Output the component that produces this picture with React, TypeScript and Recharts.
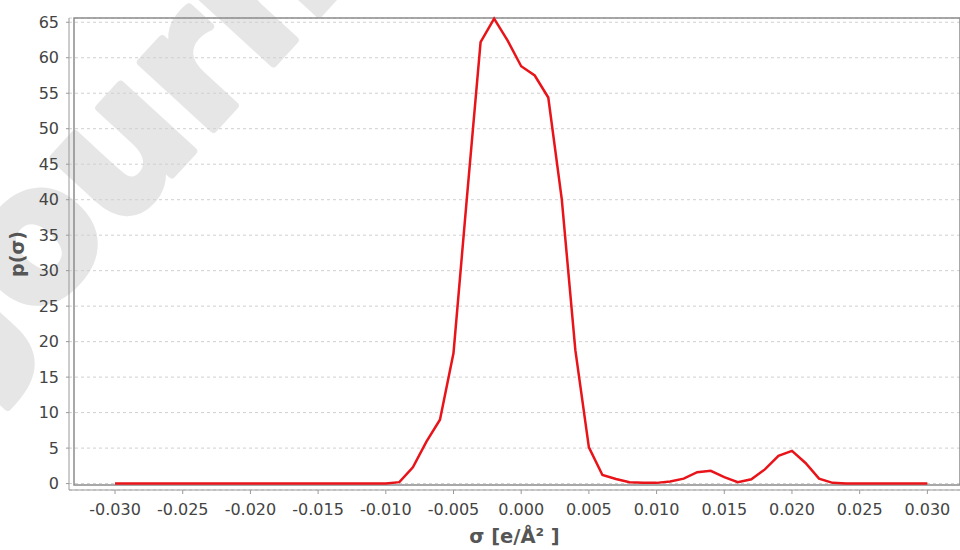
import {
  LineChart,
  Line,
  XAxis,
  YAxis,
  CartesianGrid,
  ReferenceArea,
  Label,
} from 'recharts'

// sigma-profile: charge density sigma (e/Å²) vs. p(sigma)
const sigma = [
  -0.03, -0.029, -0.028, -0.027, -0.026, -0.025, -0.024, -0.023, -0.022, -0.021,
  -0.02, -0.019, -0.018, -0.017, -0.016, -0.015, -0.014, -0.013, -0.012, -0.011,
  -0.01, -0.009, -0.008, -0.007, -0.006, -0.005, -0.004, -0.003, -0.002, -0.001,
  0.0, 0.001, 0.002, 0.003, 0.004, 0.005, 0.006, 0.007, 0.008, 0.009,
  0.01, 0.011, 0.012, 0.013, 0.014, 0.015, 0.016, 0.017, 0.018, 0.019,
  0.02, 0.021, 0.022, 0.023, 0.024, 0.025, 0.026, 0.027, 0.028, 0.029,
  0.03,
]

const pSigma = [
  0, 0, 0, 0, 0, 0, 0, 0, 0, 0,
  0, 0, 0, 0, 0, 0, 0, 0, 0, 0,
  0, 0.2, 2.3, 5.9, 9.0, 18.4, 40.5, 62.2, 65.5, 62.4,
  58.8, 57.5, 54.4, 40.0, 18.8, 5.1, 1.2, 0.65, 0.2, 0.1,
  0.1, 0.3, 0.7, 1.6, 1.8, 0.9, 0.2, 0.6, 2.0, 3.9,
  4.6, 2.9, 0.7, 0.1, 0, 0, 0, 0, 0, 0,
  0,
]

const xTicks = [-0.03, -0.025, -0.02, -0.015, -0.01, -0.005, 0, 0.005, 0.01, 0.015, 0.02, 0.025, 0.03]
const yTicks = [0, 5, 10, 15, 20, 25, 30, 35, 40, 45, 50, 55, 60, 65]

const xDomain = [-0.03303, 0.03241]
const yDomain = [-0.2, 65.6]

const data = sigma.map((s, i) => ({ sigma: s, p: pSigma[i] }))

const FONT = '"DejaVu Sans", sans-serif'
const AXIS_GRAY = '#999999'
const MARK_GRAY = '#e6e6e6'

export default function App() {
  return (
    <div style={{ position: 'absolute', left: 0, top: 0, width: 960, height: 550, background: '#fff', fontFamily: FONT }}>
      {/* watermark sits underneath the chart */}
      <svg
        width={960}
        height={550}
        style={{ position: 'absolute', left: 0, top: 0, pointerEvents: 'none' }}
      >
        <text
          x={0}
          y={0}
          transform="translate(-12 375) rotate(-47.5)"
          fontFamily={FONT}
          fontWeight="bold"
          fontSize={180}
          fill={MARK_GRAY}
          stroke={MARK_GRAY}
          strokeWidth={8}
          strokeLinejoin="round"
        >
          Journal Pre-proof
        </text>
      </svg>
      <div style={{ position: 'absolute', left: 0, top: 0 }}>
        <LineChart
          width={960}
          height={550}
          data={data}
          margin={{ top: 18, right: 0, bottom: 0, left: 0 }}
        >
          <CartesianGrid vertical={false} stroke="#d0d0d0" strokeDasharray="3 3" />
          <XAxis
            type="number"
            dataKey="sigma"
            domain={xDomain}
            ticks={xTicks}
            tickFormatter={(v: number) => v.toFixed(3)}
            height={60}
            padding={{ left: 5, right: 0 }}
            stroke={AXIS_GRAY}
            tickSize={4}
            tickMargin={10}
            tick={{ fill: '#444', fontSize: 16, fontFamily: FONT }}
            interval={0}
          >
            <Label
              value="σ [e/Å² ]"
              position="insideBottom"
              offset={7}
              style={{ fill: '#555', fontSize: 19.5, fontWeight: 'bold', fontFamily: FONT }}
            />
          </XAxis>
          <YAxis
            type="number"
            domain={yDomain}
            ticks={yTicks}
            width={69}
            padding={{ top: 0, bottom: 5 }}
            stroke={AXIS_GRAY}
            tickSize={3}
            tickMargin={7}
            tick={{ fill: '#444', fontSize: 16, fontFamily: FONT }}
            interval={0}
          >
            <Label
              value="p(σ)"
              angle={-90}
              position="insideLeft"
              offset={17}
              style={{ fill: '#555', fontSize: 19, fontWeight: 'bold', fontFamily: FONT, textAnchor: 'middle' }}
            />
          </YAxis>
          <ReferenceArea
            x1={xDomain[0]}
            x2={xDomain[1]}
            y1={yDomain[0]}
            y2={yDomain[1]}
            fill="none"
            stroke="#8c8c8c"
            strokeWidth={1.5}
          />
          <Line
            type="linear"
            dataKey="p"
            stroke="#e8141a"
            strokeWidth={2.5}
            dot={false}
            activeDot={false}
            isAnimationActive={false}
          />
        </LineChart>
      </div>
    </div>
  )
}
